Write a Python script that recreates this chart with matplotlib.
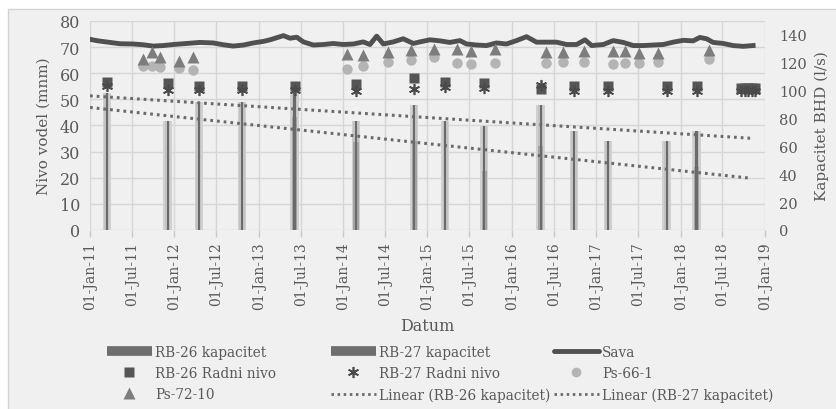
import numpy as np
import pandas as pd
import matplotlib
matplotlib.use("Agg")
import matplotlib.pyplot as plt
import matplotlib.dates as mdates
from matplotlib.lines import Line2D
from matplotlib.patches import Rectangle

# ---------------- data (dates as decimal years) ----------------
sava_t = [2011.000, 2011.059, 2011.118, 2011.237, 2011.355, 2011.513, 2011.632, 2011.750,
          2011.869, 2011.987, 2012.145, 2012.303, 2012.461, 2012.580, 2012.698, 2012.817,
          2012.935, 2013.054, 2013.133, 2013.212, 2013.291, 2013.370, 2013.449, 2013.528,
          2013.646, 2013.765, 2013.883, 2014.002, 2014.120, 2014.238, 2014.318, 2014.397,
          2014.476, 2014.594, 2014.712, 2014.831, 2014.910, 2015.028, 2015.147, 2015.265,
          2015.384, 2015.463, 2015.581, 2015.700, 2015.818, 2015.937, 2016.055, 2016.174,
          2016.292, 2016.411, 2016.529, 2016.648, 2016.767, 2016.865, 2016.944, 2017.082,
          2017.200, 2017.319, 2017.437, 2017.556, 2017.674, 2017.793, 2017.911, 2018.030,
          2018.148, 2018.227, 2018.307, 2018.385, 2018.504, 2018.622, 2018.741, 2018.859]
sava_v = [73.0, 72.6, 72.3, 71.8, 71.3, 71.2, 70.9, 70.4,
          70.6, 71.0, 71.4, 71.8, 71.6, 70.9, 70.4, 70.8,
          71.6, 72.2, 72.8, 73.6, 74.4, 73.4, 73.8, 72.0,
          70.8, 71.0, 71.4, 71.0, 71.2, 72.0, 71.0, 74.2,
          71.2, 72.0, 73.2, 71.4, 72.0, 72.8, 72.4, 71.8,
          72.5, 71.2, 70.8, 70.6, 71.6, 71.2, 72.5, 74.0,
          71.9, 71.9, 71.9, 71.0, 71.0, 72.8, 70.6, 71.0,
          72.5, 71.8, 70.6, 70.6, 70.8, 71.0, 71.9, 72.6,
          72.4, 73.7, 73.2, 71.8, 71.4, 70.6, 70.3, 70.6]

rb26_kap_t = [2011.198, 2011.921, 2012.291, 2012.801, 2013.423, 2014.152, 2014.842,
              2015.210, 2015.672, 2016.340, 2016.735, 2017.134, 2017.833, 2018.188]
rb26_kap_v = [98, 78, 92, 92, 98, 78, 90, 78, 75, 90, 71, 64, 64, 71]

rb27_kap_t = [2013.423, 2014.152, 2014.842, 2015.672, 2016.340, 2018.188]
rb27_kap_v = [81, 63, 64, 42, 60, 45]

radni_t = [2011.198, 2011.921, 2012.291, 2012.801, 2013.423, 2014.152, 2014.842,
           2015.210, 2015.672, 2016.340, 2016.735, 2017.134, 2017.833, 2018.188,
           2018.720, 2018.760, 2018.800, 2018.840, 2018.880]
rb26_radni_v = [56.8, 56.3, 55.0, 55.0, 55.2, 55.9, 58.1, 56.5, 56.3, 54.0, 55.2, 55.2,
                55.2, 55.2, 54.3, 54.3, 54.3, 54.3, 54.3]
rb27_radni_v = [55.0, 53.7, 53.7, 53.7, 53.7, 53.3, 54.0, 54.6, 54.2, 55.5, 53.3, 53.3,
                53.3, 53.3, 53.3, 53.3, 53.3, 53.3, 53.3]

ps_t = [2011.63, 2011.73, 2011.83, 2012.06, 2012.22, 2014.05, 2014.23, 2014.53, 2014.80,
        2015.08, 2015.35, 2015.51, 2015.80, 2016.40, 2016.60, 2016.85, 2017.20, 2017.34,
        2017.50, 2017.73, 2018.34]
ps72_v = [65.5, 68.3, 66.1, 64.8, 66.1, 67.4, 67.0, 68.0, 69.0, 69.3, 69.3, 68.6, 69.3,
          68.0, 68.3, 68.6, 68.6, 68.6, 67.8, 67.8, 69.0]
ps66_v = [62.9, 62.7, 62.3, 61.9, 61.2, 61.6, 62.7, 64.2, 65.2, 66.1, 63.9, 63.5, 63.9,
          63.9, 64.4, 64.2, 63.5, 63.9, 63.9, 64.2, 65.5]

trend_range = [2011.0, 2018.84]

left_ticks = list(range(0, 81, 10))
right_ticks = list(range(0, 141, 20))

# ---------------- helpers ----------------
def to_num(dec):
    out = []
    for d in np.atleast_1d(dec):
        y = int(np.floor(d))
        s = pd.Timestamp(y, 1, 1)
        e = pd.Timestamp(y + 1, 1, 1)
        out.append(mdates.date2num(s + (e - s) * (d - y)))
    return np.array(out)

TXT = "#595959"
plt.rcParams["font.family"] = ["DejaVu Serif"]
plt.rcParams["font.size"] = 10

fig = plt.figure(figsize=(8.37, 4.10), dpi=100)
fig.patch.set_facecolor("white")
fig.add_artist(Rectangle((8 / 837, -0.01), 1.0, 1 - 10 / 410 + 0.01, transform=fig.transFigure,
                         facecolor="#f0f0f0", edgecolor="#d2d2d2", lw=1.0, zorder=-10))

pos = [90 / 837, 1 - 231 / 410, 675 / 837, 209 / 410]
axg = fig.add_axes(pos, zorder=0)
axb = fig.add_axes(pos, sharex=axg, zorder=1)
axl = fig.add_axes(pos, sharex=axg, zorder=2)

xmin = mdates.date2num(pd.Timestamp(2011, 1, 1))
xmax = mdates.date2num(pd.Timestamp(2019, 1, 1))

# grid / frame axis
axg.set_facecolor("#f0f0f0")
axg.set_xlim(xmin, xmax)
axg.set_ylim(0, 80)
axg.set_yticks(left_ticks)
axg.xaxis.set_major_locator(mdates.MonthLocator(bymonth=[1, 7]))
axg.xaxis.set_major_formatter(mdates.DateFormatter("%d-%b-%y"))
axg.grid(True, color="#d6d6d6", lw=1.0)
for sp in axg.spines.values():
    sp.set_visible(False)
axg.tick_params(axis="x", rotation=90, colors=TXT, length=5, width=1, color="#c8c8c8",
                labelsize=10, pad=3)
axg.tick_params(axis="y", colors=TXT, length=0, labelsize=11.5, pad=7)
axg.set_ylabel("Nivo vodel (mnm)", color=TXT, fontsize=11, labelpad=7)
axg.set_xlabel("Datum", color=TXT, fontsize=11.5, labelpad=6)

# bars (right axis)
axb.patch.set_visible(False)
axb.set_ylim(0, 150)
axb.set_yticks(right_ticks)
axb.yaxis.tick_right()
axb.yaxis.set_label_position("right")
axb.tick_params(axis="y", colors=TXT, length=0, labelsize=10.5, pad=10)
axb.tick_params(axis="x", bottom=False, labelbottom=False)
for sp in axb.spines.values():
    sp.set_visible(False)
axb.set_ylabel("Kapacitet BHD (l/s)", color=TXT, fontsize=11, labelpad=6)

t26 = to_num(rb26_kap_t)
t27 = to_num(rb27_kap_t)
axb.bar(t26, rb26_kap_v, width=36, color="#d0d0d0", zorder=1)
axb.bar(t26, rb26_kap_v, width=22, color="#c2c2c2", zorder=1)
axb.bar(t27, rb27_kap_v, width=22, color="#a2a2a2", zorder=2)
axb.bar(t26, rb26_kap_v, width=9, color="#6a6a6a", zorder=3)

# trend lines (right axis)
tr_x = np.array(trend_range)
for tt, vv in ((rb26_kap_t, rb26_kap_v), (rb27_kap_t, rb27_kap_v)):
    k, b = np.polyfit(tt, vv, 1)
    axb.plot(to_num(tr_x), k * tr_x + b, color="#6a6a6a", lw=2.2,
             linestyle=(0, (0.9, 1.3)), zorder=4)

# line + markers (left axis)
axl.patch.set_visible(False)
axl.set_ylim(0, 80)
axl.set_xlim(xmin, xmax)
axl.axis("off")
axl.plot(to_num(sava_t), sava_v, color="#505050", lw=3.5, zorder=3)
axl.plot(to_num(ps_t), ps66_v, "o", color="#b4b4b4", ms=7.5, mec="none", zorder=4)
axl.plot(to_num(ps_t), ps72_v, "^", color="#7d7d7d", ms=8, mec="none", zorder=5)
axl.plot(to_num(radni_t), rb26_radni_v, "s", color="#555555", ms=7, mec="none", zorder=6)
axl.plot(to_num(radni_t), rb27_radni_v, marker=(6, 2, 0), ls="none", color="#4a4a4a",
         ms=8, mew=1.2, zorder=7)

# legend (three columns)
kap_h = Line2D([], [], color="#6e6e6e", lw=7, solid_capstyle="butt")
sava_h = Line2D([], [], color="#505050", lw=3.5, solid_capstyle="round")
sq_h = Line2D([], [], marker="s", ls="none", color="#555555", ms=7, mec="none")
st_h = Line2D([], [], marker=(6, 2, 0), ls="none", color="#4a4a4a", ms=8, mew=1.2)
ci_h = Line2D([], [], marker="o", ls="none", color="#b4b4b4", ms=7, mec="none")
tr_h = Line2D([], [], marker="^", ls="none", color="#7d7d7d", ms=8, mec="none")
ln_h = Line2D([], [], color="#6a6a6a", lw=2.0, linestyle=(0, (0.9, 1.3)))

cols = [
    ([kap_h, sq_h, tr_h], ["RB-26 kapacitet", "RB-26 Radni nivo", "Ps-72-10"], 107),
    ([kap_h, st_h, ln_h], ["RB-27 kapacitet", "RB-27 Radni nivo", "Linear (RB-26 kapacitet)"], 331),
    ([sava_h, ci_h, ln_h], ["Sava", "Ps-66-1", "Linear (RB-27 kapacitet)"], 554),
]
for handles, labels, xp in cols:
    fig.legend(handles, labels, loc="upper left",
               bbox_to_anchor=(xp / 837, 1 - 346 / 410), frameon=False,
               handlelength=3.3, handletextpad=0.25, labelspacing=0.52,
               borderpad=0, borderaxespad=0, fontsize=9.8, labelcolor=TXT)

fig.savefig("out.png", dpi=100, facecolor=fig.get_facecolor())
